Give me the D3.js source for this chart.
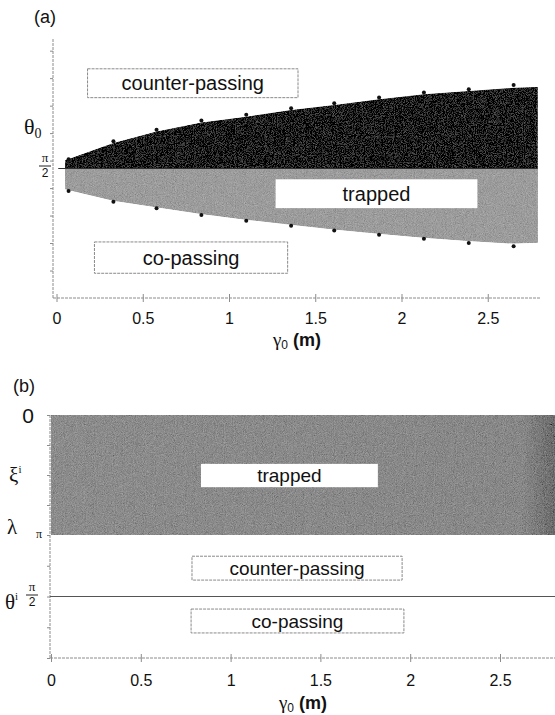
<!DOCTYPE html>
<html>
<head>
<meta charset="utf-8">
<script src="https://cdn.jsdelivr.net/npm/d3@7"></script>
<style>
  body { margin: 0; background: #fff; }
  svg { display: block; }
  .lbl { font-family: "Liberation Sans", Arial, sans-serif; fill: #111; }
  .grk { font-family: "Liberation Serif", "DejaVu Serif", serif; fill: #111; }
</style>
</head>
<body>
<script>
/*
    DATA
*/
// panel (a): the points on the edges of the trapped band
var gammaDots = [0.07, 0.33, 0.58, 0.84, 1.10, 1.36, 1.61, 1.87, 2.13, 2.39, 2.65];
var upperDots = [1.67, 1.89, 2.03, 2.14, 2.21, 2.29, 2.35, 2.42, 2.48, 2.52, 2.57];
var lowerDots = [1.31, 1.18, 1.10, 1.02, 0.95, 0.89, 0.83, 0.78, 0.73, 0.68, 0.64];

// panel (a): the filled band, from its left edge to its right edge
var bandGamma = [0.05, 0.33, 0.58, 0.84, 1.10, 1.36, 1.61, 1.87, 2.13, 2.39, 2.65, 2.79];
var bandUpper = [1.67, 1.88, 2.02, 2.13, 2.20, 2.28, 2.34, 2.41, 2.47, 2.51, 2.55, 2.56];
var bandLower = [1.32, 1.18, 1.10, 1.02, 0.95, 0.89, 0.83, 0.78, 0.73, 0.69, 0.66, 0.67];

var halfPi = Math.PI / 2;

// panel (b): trapped over the whole range
var bandGammaB = [0, 2.82];

// ticks
var xTickValues = [0, 0.5, 1, 1.5, 2, 2.5];
var yTicksA = [0.333, 0.667, 1, 1.333, 1.667, 2, 2.333, 2.667, 3];
var yTicksB = [0, Math.PI / 4, Math.PI / 2, 3 * Math.PI / 4, Math.PI];

// region labels  [text, gamma0, gamma1, angle0, angle1, framed]
var boxesA = [
  ["counter-passing", 0.18, 1.40, 2.43, 2.78, true],
  ["trapped",         1.27, 2.44, 1.09, 1.44, false],
  ["co-passing",      0.22, 1.34, 0.30, 0.68, true]
];
var boxesBxi = [
  ["trapped", 0.835, 1.82, 1.28, 1.89, false]
];
var boxesBth = [
  ["counter-passing", 0.785, 1.955, 1.99, 2.60, true],
  ["co-passing",      0.78, 1.965, 0.64, 1.25, true]
];

/*
    LAYOUT
*/
var width = 555, height = 715;

var svg = d3.select("body").append("svg")
    .attr("width", width)
    .attr("height", height);

// grain like the printed halftone
var defs = svg.append("defs");
var grain = defs.append("filter").attr("id", "grain")
    .attr("x", 0).attr("y", 0).attr("width", 1).attr("height", 1);
grain.append("feTurbulence")
    .attr("type", "fractalNoise").attr("baseFrequency", 1.1)
    .attr("numOctaves", 2).attr("seed", 3).attr("result", "noise");
grain.append("feColorMatrix").attr("in", "noise").attr("type", "matrix")
    .attr("values", "0.33 0.33 0.33 0 0  0.33 0.33 0.33 0 0  0.33 0.33 0.33 0 0  0 0 0 0 1")
    .attr("result", "gray");
grain.append("feComposite").attr("in", "SourceGraphic").attr("in2", "gray")
    .attr("operator", "arithmetic")
    .attr("k1", 0).attr("k2", 1).attr("k3", 0.5).attr("k4", -0.25)
    .attr("result", "mix");
grain.append("feComposite").attr("in", "mix").attr("in2", "SourceAlpha")
    .attr("operator", "in");

var gradB = defs.append("linearGradient").attr("id", "edgeB")
    .attr("x1", "0%").attr("x2", "100%");
gradB.append("stop").attr("offset", "0%").attr("stop-color", "#8c8c8c");
gradB.append("stop").attr("offset", "93%").attr("stop-color", "#888");
gradB.append("stop").attr("offset", "100%").attr("stop-color", "#6a6a6a");

// SCALES
var xA = d3.scaleLinear().domain([0, 2.5]).range([56.5, 487.75]);
var yA = d3.scaleLinear().domain([0, Math.PI]).range([298, 39]);

var xB = d3.scaleLinear().domain([0, 2.5]).range([51, 500]);
var yBxi = d3.scaleLinear().domain([0, Math.PI]).range([415, 535]);
var yBth = d3.scaleLinear().domain([0, Math.PI]).range([658, 535]);

var axisColor = "#8c8c8c";

/*
    PANEL (a)
*/
var pa = svg.append("g");

var bandArea = d3.area()
    .x(function(d, i) { return xA(bandGamma[i]); })
    .y0(yA(halfPi))
    .y1(function(d) { return yA(d); });

pa.append("path").datum(bandLower)
    .attr("d", bandArea)
    .attr("fill", "#9c9c9c")
    .attr("filter", "url(#grain)");
pa.append("path").datum(bandUpper)
    .attr("d", bandArea)
    .attr("fill", "#1e1e1e")
    .attr("filter", "url(#grain)");

// pi/2 line
pa.append("line")
    .attr("x1", xA(0.01)).attr("x2", xA(2.79))
    .attr("y1", yA(halfPi)).attr("y2", yA(halfPi))
    .attr("stroke", "#333").attr("stroke-width", 1.2);

// edge dots
pa.selectAll("circle.up").data(upperDots).enter().append("circle")
    .attr("class", "up")
    .attr("cx", function(d, i) { return xA(gammaDots[i]); })
    .attr("cy", function(d) { return yA(d) - 1; })
    .attr("r", 2).attr("fill", "#111");
pa.selectAll("circle.lo").data(lowerDots).enter().append("circle")
    .attr("class", "lo")
    .attr("cx", function(d, i) { return xA(gammaDots[i]); })
    .attr("cy", function(d) { return yA(d) + 1; })
    .attr("r", 2).attr("fill", "#111");

// axes
function styleAxis(g) {
  g.select(".domain").remove();
  g.selectAll(".tick line").attr("stroke", axisColor);
}

pa.append("line")
    .attr("x1", 53).attr("x2", 540).attr("y1", yA(0)).attr("y2", yA(0))
    .attr("stroke", axisColor).attr("stroke-dasharray", "3,1");
pa.append("line")
    .attr("x1", 53).attr("x2", 53).attr("y1", yA(0)).attr("y2", yA(Math.PI))
    .attr("stroke", axisColor).attr("stroke-dasharray", "3,1");

pa.append("g")
    .attr("transform", "translate(0," + yA(0) + ")")
    .call(d3.axisBottom(xA).tickValues(xTickValues).tickSize(4).tickPadding(11)
          .tickFormat(function(d) { return d; }))
    .call(styleAxis)
    .call(function(g) {
      g.selectAll(".tick line").attr("y1", -4);
      g.selectAll(".tick text").attr("class", "lbl").attr("font-size", 16).attr("fill", "#111");
    });

pa.append("g")
    .attr("transform", "translate(53,0)")
    .call(d3.axisLeft(yA).tickValues(yTicksA).tickSize(3).tickFormat(""))
    .call(styleAxis);

// label boxes
function drawBoxes(g, boxes, xs, ys, fs) {
  boxes.forEach(function(b) {
    var x0 = xs(b[1]), x1 = xs(b[2]);
    var y0 = ys(b[4]), y1 = ys(b[3]);
    var top = Math.min(y0, y1), h = Math.abs(y1 - y0);
    g.append("rect")
        .attr("x", x0).attr("y", top)
        .attr("width", x1 - x0).attr("height", h)
        .attr("fill", "#fff")
        .attr("stroke", b[5] ? "#8a8a8a" : "none")
        .attr("stroke-dasharray", b[5] ? "3,1" : null);
    g.append("text").attr("class", "lbl")
        .attr("x", (x0 + x1) / 2).attr("y", top + h / 2)
        .attr("dy", "0.36em")
        .attr("text-anchor", "middle")
        .attr("font-size", fs)
        .text(b[0]);
  });
}
drawBoxes(pa, boxesA, xA, yA, 20);

// text on panel (a)
pa.append("text").attr("class", "lbl").attr("x", 34).attr("y", 23)
    .attr("font-size", 18).text("(a)");

var th0 = pa.append("text").attr("class", "grk").attr("x", 24).attr("y", 134)
    .attr("font-size", 22);
th0.append("tspan").text("θ");
th0.append("tspan").attr("font-size", 14).attr("dy", 4).text("0");

function halfPiLabel(g, cx, cy) {
  g.append("text").attr("class", "grk").attr("x", cx).attr("y", cy - 4)
      .attr("text-anchor", "middle").attr("font-size", 13).text("π");
  g.append("line").attr("x1", cx - 6).attr("x2", cx + 6)
      .attr("y1", cy).attr("y2", cy).attr("stroke", "#222").attr("stroke-width", 1);
  g.append("text").attr("class", "lbl").attr("x", cx).attr("y", cy + 11)
      .attr("text-anchor", "middle").attr("font-size", 12).text("2");
}
halfPiLabel(pa, 45, 166);

function gammaTitle(g, cx, cy) {
  var t = g.append("text").attr("x", cx).attr("y", cy)
      .attr("text-anchor", "middle").attr("font-size", 19);
  t.append("tspan").attr("class", "grk").text("γ");
  t.append("tspan").attr("class", "lbl").attr("font-size", 12).attr("dy", 3).text("0");
  t.append("tspan").attr("class", "lbl").attr("font-weight", "bold").attr("dy", -3)
      .attr("font-size", 18).text(" (m)");
}
gammaTitle(pa, 297, 346);

/*
    PANEL (b)
*/
var pb = svg.append("g");

var areaB = d3.area()
    .x(function(d) { return xB(d); })
    .y0(yBxi(0))
    .y1(yBxi(Math.PI));

pb.append("path").datum(bandGammaB)
    .attr("d", areaB)
    .attr("fill", "url(#edgeB)")
    .attr("filter", "url(#grain)");

// axes
pb.append("line")
    .attr("x1", 50).attr("x2", 555).attr("y1", yBth(0)).attr("y2", yBth(0))
    .attr("stroke", axisColor).attr("stroke-dasharray", "3,1");
pb.append("line")
    .attr("x1", 50).attr("x2", 50).attr("y1", yBth(0)).attr("y2", yBxi(0))
    .attr("stroke", axisColor).attr("stroke-dasharray", "3,1");
pb.append("line")
    .attr("x1", 50).attr("x2", 555).attr("y1", yBth(halfPi)).attr("y2", yBth(halfPi))
    .attr("stroke", "#555").attr("stroke-width", 1);

pb.append("g")
    .attr("transform", "translate(0," + yBth(0) + ")")
    .call(d3.axisBottom(xB).tickValues(xTickValues).tickSize(4).tickPadding(13)
          .tickFormat(function(d) { return d; }))
    .call(styleAxis)
    .call(function(g) {
      g.selectAll(".tick line").attr("y1", -4);
      g.selectAll(".tick text").attr("class", "lbl").attr("font-size", 16).attr("fill", "#111");
    });

pb.append("g")
    .attr("transform", "translate(50,0)")
    .call(d3.axisLeft(yBxi).tickValues(yTicksB).tickSize(3).tickFormat(""))
    .call(styleAxis);
pb.append("g")
    .attr("transform", "translate(50,0)")
    .call(d3.axisLeft(yBth).tickValues(yTicksB).tickSize(3).tickFormat(""))
    .call(styleAxis);

drawBoxes(pb, boxesBxi, xB, yBxi, 19);
drawBoxes(pb, boxesBth, xB, yBth, 19);

// text on panel (b)
pb.append("text").attr("class", "lbl").attr("x", 13).attr("y", 392)
    .attr("font-size", 18).text("(b)");
pb.append("text").attr("class", "lbl").attr("x", 28).attr("y", 423)
    .attr("text-anchor", "middle").attr("font-size", 21).text("0");

var xi = pb.append("text").attr("class", "grk").attr("x", 9).attr("y", 482)
    .attr("font-size", 21);
xi.append("tspan").text("ξ");
xi.append("tspan").attr("font-size", 11).attr("dy", -9).text("i");

pb.append("text").attr("class", "grk").attr("x", 7).attr("y", 534)
    .attr("font-size", 21).text("λ");
pb.append("text").attr("class", "grk").attr("x", 39).attr("y", 538)
    .attr("text-anchor", "middle").attr("font-size", 12).text("π");

var thi = pb.append("text").attr("class", "grk").attr("x", 5).attr("y", 609)
    .attr("font-size", 21);
thi.append("tspan").text("θ");
thi.append("tspan").attr("font-size", 11).attr("dy", -9).text("i");
halfPiLabel(pb, 32, 595);

gammaTitle(pb, 303, 709);
</script>
</body>
</html>
